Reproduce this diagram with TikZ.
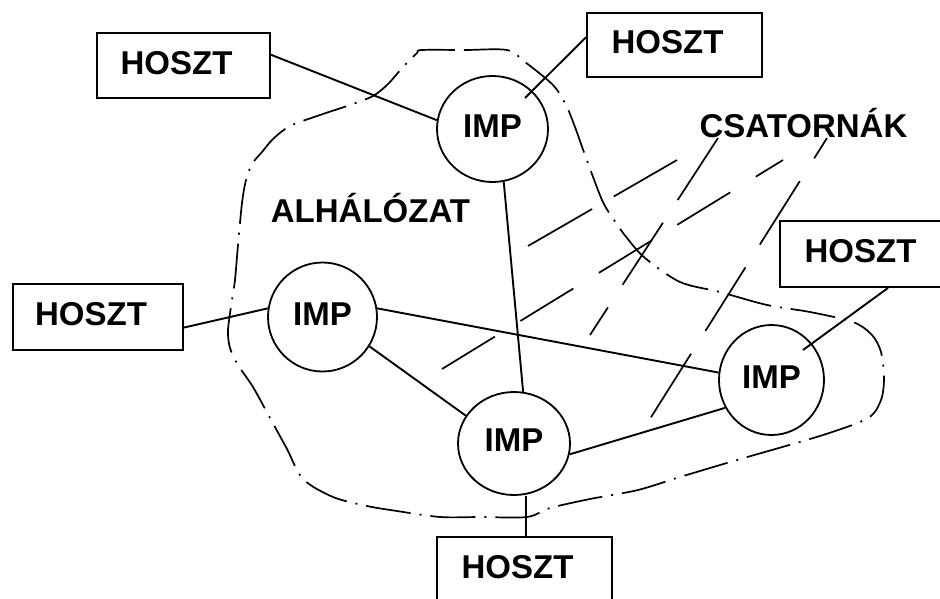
\documentclass[tikz,border=0pt]{standalone}
\usepackage{fontspec}
\setmainfont{Liberation Sans}
\usetikzlibrary{shapes.geometric,calc}
\begin{document}
\begin{tikzpicture}[x=1pt,y=-1pt,
  every node/.style={font=\fontsize{33}{36}\selectfont\bfseries},
  hostbox/.style={draw, line width=2pt, rectangle, inner sep=0pt, text depth=6pt},
  imp/.style={draw, line width=1.8pt, ellipse, inner sep=0pt, text depth=6pt},
  link/.style={line width=1.9pt},
  channel/.style={line width=1.7pt},
  subnet/.style={line width=1.7pt, dash pattern=on 45pt off 9pt on 2pt off 9pt}
]
\fill[white] (0,0) rectangle (940,598);
\useasboundingbox (0,0) rectangle (940,598);
\clip (0,0) rectangle (940,598);

% subnet boundary
\draw[subnet] plot[smooth cycle, tension=0.5] coordinates {
 (422,50) (465,50) (507,50) (525,62) (553,85) (566,105) (575,127) (585,155)
 (602,200) (614,220) (627,238) (645,258) (680,282) (720,292) (767,305)
 (810,312) (853,322) (872,335) (881,352) (884,378) (881,400) (868,418)
 (823,435) (737,460) (680,477) (638,490) (590,499) (550,508) (527,517)
 (480,517) (440,517) (397,511) (367,506) (333,497) (303,479) (287,449)
 (270,418) (253,387) (238,365) (230,348) (228,330) (232,300) (235,280)
 (238,245) (242,203) (246,180) (252,164) (262,152) (273,139) (290,126)
 (320,115) (350,105) (373,96) (388,84) (403,67) (417,53)};

% hosts
\node[hostbox, minimum width=173pt, minimum height=65pt] (h1) at (183.5,65.5) {\kern-14pt HOSZT};
\node[hostbox, minimum width=175pt, minimum height=64pt] (h2) at (674.5,45) {\kern-14pt HOSZT};
\node[hostbox, minimum width=170pt, minimum height=66pt] (h3) at (98,317) {\kern-14pt HOSZT};
\node[hostbox, minimum width=175pt, minimum height=66pt] (h4) at (867.5,254) {\kern-14pt HOSZT};
\node[hostbox, minimum width=175pt, minimum height=65pt] (h5) at (524.5,569.5) {\kern-14pt HOSZT};

% IMPs
\node[imp, minimum width=111pt, minimum height=106pt] (i1) at (492.5,129) {IMP};
\node[imp, minimum width=109pt, minimum height=109pt] (i2) at (322.5,317) {IMP};
\node[imp, minimum width=112pt, minimum height=103pt] (i3) at (514,443.5) {IMP};
\node[imp, minimum width=105pt, minimum height=110pt] (i4) at (771.5,380) {IMP};

% labels
\node[anchor=base] (alh) at (370.5,222) {ALHÁLÓZAT};
\node[anchor=base] (csa) at (803.5,137) {CSATORNÁK};

% links
\draw[link] (h1.7) -- (i1.171);
\draw[link] (h2.175) -- ($(i1.center)+(32.5,-31)$);
\draw[link] (h3.-7) -- (i2.171);
\draw[link] (h4.-59) -- ($(i4.center)+(31.5,-30)$);
\draw[link] (i1.-78) -- (i3.80);
\draw[link] (i2.9) -- (i4.172);
\draw[link] (i2.-32) -- (i3.150);
\draw[link] (i3.-11) -- (i4.211);
\draw[link] ([xshift=1.5pt]h5.north) -- ([xshift=1.5pt]h5.north |- i3.south);

% channels
\draw[channel, dash pattern=on 74pt off 27pt] (718,138) -- (590,335);
\draw[channel, dash pattern=on 75pt off 27pt, dash phase=51pt] (827,138) -- (648,422);
\draw[channel, dash pattern=on 74pt off 25pt] (528,246) -- (677,160);
\draw[channel, dash pattern=on 62pt off 30pt] (442,369) -- (783,160);
\end{tikzpicture}
\end{document}
